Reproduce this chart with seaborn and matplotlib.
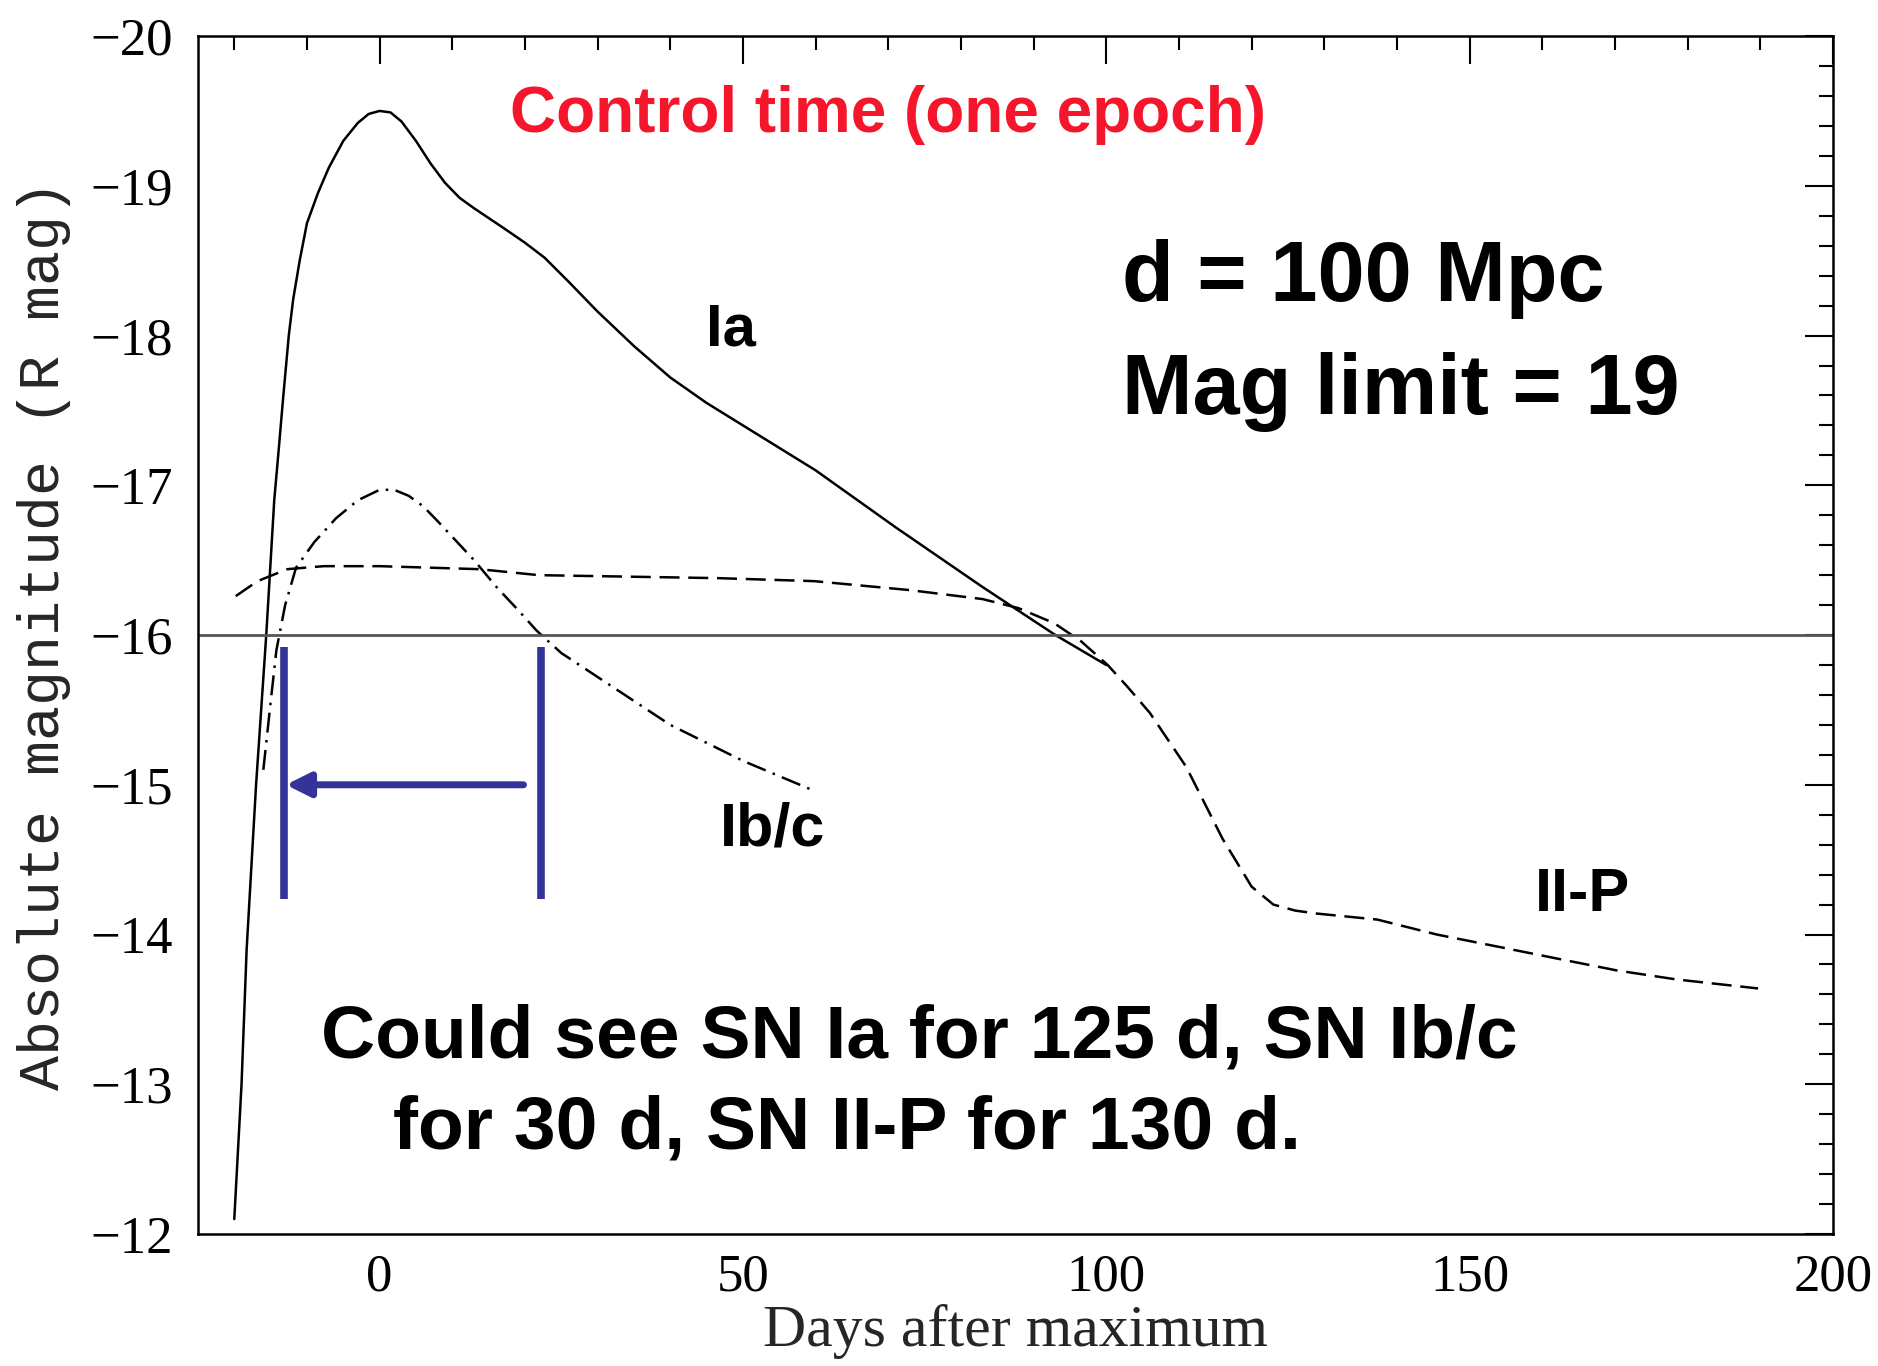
import pandas as pd
import matplotlib
matplotlib.use("Agg")
import matplotlib.pyplot as plt
from matplotlib.ticker import MultipleLocator
import seaborn as sns

# light curves (days after max, R abs mag)
ia_days = [-20, -19, -18.3, -17, -15.6, -14.5, -13.9, -13.3, -12.5, -11.9, -11, -10, -8.5, -7, -5, -3, -1.5, 0,
           1.5, 3, 5, 7, 9, 11, 13, 17, 20, 22.7, 26, 30, 35, 40, 45, 50, 55, 60, 71, 83, 93, 100]
ia_mag = [-12.1, -13.0, -13.9, -15.0, -16.0, -16.9, -17.23, -17.57, -18.0, -18.24, -18.5, -18.75, -18.95, -19.12,
          -19.3, -19.42, -19.48, -19.5, -19.49, -19.43, -19.3, -19.15, -19.02, -18.92, -18.85, -18.72, -18.62,
          -18.52, -18.36, -18.16, -17.93, -17.72, -17.55, -17.4, -17.25, -17.1, -16.72, -16.32, -16.0, -15.8]

ibc_days = [-16, -15, -14.2, -13, -11.5, -9, -6, -3, 0, 2, 4, 6, 8, 10.5, 13, 16.1, 19, 21.6, 25, 30, 40, 50, 59.8]
ibc_mag = [-15.1, -15.55, -15.9, -16.2, -16.45, -16.62, -16.78, -16.9, -16.97, -16.97, -16.93, -16.86, -16.76,
           -16.63, -16.5, -16.32, -16.17, -16.03, -15.88, -15.72, -15.4, -15.16, -14.96]

iip_days = [-19.8, -16.8, -12.7, -7.7, 0, 13.7, 21.9, 46.6, 59.8, 73, 83, 87.9, 92.8, 96.5, 100.2, 103, 106, 111,
            116, 120, 123, 126, 129, 137.3, 145.5, 153.8, 162, 170.3, 178.5, 189.7]
iip_mag = [-16.26, -16.36, -16.44, -16.46, -16.46, -16.44, -16.4, -16.38, -16.36, -16.3, -16.24, -16.18, -16.08,
           -15.96, -15.8, -15.65, -15.48, -15.12, -14.64, -14.32, -14.2, -14.16, -14.14, -14.1, -14.0, -13.92,
           -13.84, -13.76, -13.7, -13.64]

mag_limit = -16
window_start, window_end = -13.2, 22.25

df = pd.concat([
    pd.DataFrame({"days": ia_days, "mag": ia_mag, "type": "Ia"}),
    pd.DataFrame({"days": ibc_days, "mag": ibc_mag, "type": "Ib/c"}),
    pd.DataFrame({"days": iip_days, "mag": iip_mag, "type": "II-P"}),
], ignore_index=True)

sns.set_style("white")
plt.rcParams["font.family"] = ["Liberation Serif", "DejaVu Serif"]

fig = plt.figure(figsize=(18.78, 13.66), dpi=100)
ax = fig.add_axes([0.1054, 0.0966, 0.8706, 0.877])

sns.lineplot(data=df, x="days", y="mag", style="type", style_order=["Ia", "Ib/c", "II-P"],
             dashes={"Ia": "", "Ib/c": (8, 3, 1, 3), "II-P": (8, 3.5)},
             color="black", linewidth=1.8, estimator=None, sort=False, legend=False, ax=ax)

ax.axhline(mag_limit, color="#555555", lw=2)

blue = "#333399"
ax.vlines([window_start, window_end], -15.92, -14.24, colors=blue, lw=5.5)
ax.annotate("", xy=(window_start + 0.3, -15.0), xytext=(19.8, -15.0),
            arrowprops=dict(arrowstyle="-|>", color=blue, lw=5, mutation_scale=36,
                            shrinkA=0, shrinkB=0))

ax.set_xlim(-25, 200)
ax.set_ylim(-12, -20)
ax.xaxis.set_major_locator(MultipleLocator(50))
ax.xaxis.set_minor_locator(MultipleLocator(10))
ax.yaxis.set_major_locator(MultipleLocator(1))
ax.yaxis.set_minor_locator(MultipleLocator(0.2))
ax.tick_params(which="both", direction="in", top=True, right=True, width=1.5, colors="black")
ax.tick_params(which="major", length=20, labelsize=38)
ax.tick_params(which="minor", length=10)
ax.tick_params(axis="y", pad=18)
ax.tick_params(axis="x", pad=14)
for sp in ax.spines.values():
    sp.set_linewidth(1.8)
    sp.set_color("black")

ax.set_xlabel("Days after maximum", fontsize=43, labelpad=2)
ax.set_ylabel("Absolute magnitude (R mag)", fontsize=42, family="Liberation Mono", labelpad=14)

bold = dict(family="Liberation Sans", fontweight="bold", color="black")
ax.text(70, -19.47, "Control time (one epoch)", ha="center", va="center", fontsize=46,
        family="Liberation Sans", fontweight="bold", color="#f5162b")
ax.text(48.3, -18.04, "Ia", ha="center", va="center", fontsize=43, **bold)
ax.text(102.2, -18.38, "d = 100 Mpc", ha="left", va="center", fontsize=61, **bold)
ax.text(102.2, -17.62, "Mag limit = 19", ha="left", va="center", fontsize=61, **bold)
ax.text(54.1, -14.7, "Ib/c", ha="center", va="center", fontsize=44, **bold)
ax.text(165.6, -14.26, "II-P", ha="center", va="center", fontsize=44, **bold)
ax.text(-8.1, -13.31, "Could see SN Ia for 125 d, SN Ib/c", ha="left", va="center", fontsize=54, **bold)
ax.text(1.8, -12.70, "for 30 d, SN II-P for 130 d.", ha="left", va="center", fontsize=54, **bold)

fig.savefig("out.png", dpi=100)
